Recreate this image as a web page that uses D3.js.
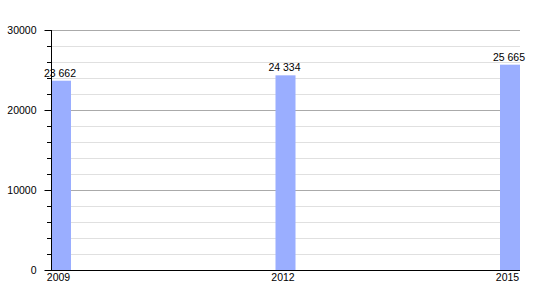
<!DOCTYPE html>
<html><head><meta charset="utf-8">
<script src="https://cdn.jsdelivr.net/npm/d3@7"></script>
<style>body{margin:0;background:#fff}text{font-family:"Liberation Sans",Arial,sans-serif}</style>
</head><body><svg id="c" width="550" height="300"></svg>
<script>
const years = [2009, 2012, 2015];
const values = [23662, 24334, 25665];
const valueLabels = ["23 662", "24 334", "25 665"];
const yTicks = [0, 10000, 20000, 30000];

const svg = d3.select("#c");
const x0 = 51, x1 = 520, yTop = 30, yBot = 270, barW = 20;
const x = d3.scaleLinear().domain([2009, 2015]).range([x0, x1 - barW]);
const y = d3.scaleLinear().domain([0, 30000]).range([yBot, yTop]);

// minor grid
const minor = d3.range(2000, 30001, 2000).filter(v => v % 10000 !== 0);
svg.append("g").selectAll("line").data(minor).join("line")
  .attr("x1", x0).attr("x2", x1).attr("y1", d => y(d) + 0.5).attr("y2", d => y(d) + 0.5)
  .attr("stroke", "#e0e0e0").attr("stroke-width", 1);
svg.append("g").selectAll("line").data(yTicks.filter(v => v > 0)).join("line")
  .attr("x1", x0).attr("x2", x1).attr("y1", d => y(d) + 0.5).attr("y2", d => y(d) + 0.5)
  .attr("stroke", "#aaaaaa").attr("stroke-width", 1);

// bars
svg.append("g").selectAll("rect").data(values).join("rect")
  .attr("x", (d, i) => x(years[i])).attr("width", barW)
  .attr("y", d => y(d)).attr("height", d => yBot - y(d))
  .attr("fill", "#9aaeff");

// value labels
svg.append("g").selectAll("text").data(values).join("text")
  .attr("x", (d, i) => x(years[i]) + barW / 2 - 1).attr("y", d => y(d) - 4)
  .attr("text-anchor", "middle").attr("font-size", "10.5px").attr("fill", "#000")
  .text((d, i) => valueLabels[i]);

// y axis
const yAxis = d3.axisLeft(y).tickValues(yTicks).tickSize(7).tickPadding(8).tickFormat(d3.format("d"));
const gy = svg.append("g").attr("transform", `translate(${x0 + 0.5},0)`).call(yAxis);
gy.select(".domain").remove();
gy.selectAll("text").attr("font-size", "10.5px").attr("font-family", "Liberation Sans, Arial, sans-serif").attr("fill", "#000");
gy.selectAll("line").attr("stroke", "#000");
svg.append("g").selectAll("line").data(minor).join("line")
  .attr("x1", x0 - 4).attr("x2", x0).attr("y1", d => y(d) + 0.5).attr("y2", d => y(d) + 0.5)
  .attr("stroke", "#000");
svg.append("line").attr("x1", x0 + 0.5).attr("x2", x0 + 0.5).attr("y1", yTop).attr("y2", yBot + 0.5).attr("stroke", "#000");
svg.append("line").attr("x1", x0 - 6).attr("x2", x1).attr("y1", yBot + 0.5).attr("y2", yBot + 0.5).attr("stroke", "#000");

// x labels
svg.append("g").selectAll("text").data(years).join("text")
  .attr("x", d => x(d) + barW / 2 - 2.5).attr("y", yBot + 11)
  .attr("text-anchor", "middle").attr("font-size", "10.5px").attr("fill", "#000")
  .text(d => d);
</script></body></html>
